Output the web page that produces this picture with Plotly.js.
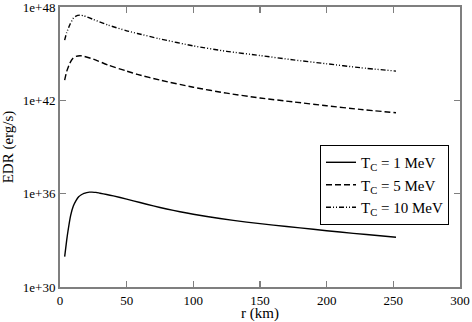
<!DOCTYPE html>
<html>
<head>
<meta charset="utf-8">
<script src="https://cdn.plot.ly/plotly-3.0.1.min.js"></script>
<style>
  html, body { margin: 0; padding: 0; background: #fff; }
  #chart { width: 472px; height: 322px; }
</style>
</head>
<body>
<div id="chart"></div>
<script>
// radius (km) and log10 of the energy deposition rate
const r1 = [3.5, 5, 6, 8, 10, 12, 14, 16, 18, 20, 22, 24, 27, 30, 35, 40, 50, 60, 70, 80, 90, 100, 120, 140, 160, 180, 200, 220, 240, 252];
const logEdr1 = [31.95, 33.0, 33.6, 34.6, 35.2, 35.55, 35.8, 35.93, 36.02, 36.07, 36.1, 36.1, 36.08, 36.03, 35.95, 35.86, 35.65, 35.43, 35.215, 35.015, 34.84, 34.68, 34.4, 34.17, 33.98, 33.8, 33.62, 33.45, 33.29, 33.2];

const r5 = [3.5, 5, 7.3, 9.75, 12, 15, 18, 25, 36, 50, 58, 75, 100, 125, 150, 175, 200, 225, 252];
const logEdr5 = [43.3, 43.85, 44.38, 44.7, 44.82, 44.87, 44.83, 44.65, 44.27, 43.88, 43.67, 43.3, 42.84, 42.46, 42.15, 41.9, 41.65, 41.42, 41.2];

const r10 = [3.5, 5, 7.3, 9.75, 12, 15, 18, 25, 36, 50, 58, 75, 100, 125, 150, 175, 200, 225, 252];
const logEdr10 = [45.87, 46.35, 46.84, 47.25, 47.42, 47.48, 47.43, 47.2, 46.84, 46.47, 46.3, 45.95, 45.5, 45.15, 44.88, 44.6, 44.35, 44.1, 43.88];

const seriesNames = ["T<sub>C</sub> = 1 MeV", "T<sub>C</sub> = 5 MeV", "T<sub>C</sub> = 10 MeV"];
const yTickVals = [1e30, 1e36, 1e42, 1e48];
const yTickText = ["1e+30", "1e+36", "1e+42", "1e+48"];
const xTickVals = [0, 50, 100, 150, 200, 250, 300];

const toVal = arr => arr.map(v => Math.pow(10, v));

const axisGray = '#7f7f7f';
const serif = "Liberation Serif, serif";

const traces = [
    {
        x: r1, y: toVal(logEdr1), name: seriesNames[0],
        mode: 'lines', type: 'scatter',
        line: { color: 'black', width: 1.4, shape: 'spline', smoothing: 0.6 }
    },
    {
        x: r5, y: toVal(logEdr5), name: seriesNames[1],
        mode: 'lines', type: 'scatter',
        line: { color: 'black', width: 1.4, dash: '6px,3px', shape: 'spline', smoothing: 0.6 }
    },
    {
        x: r10, y: toVal(logEdr10), name: seriesNames[2],
        mode: 'lines', type: 'scatter',
        line: { color: 'black', width: 1.4, dash: '5px,2px,1px,2px,1px,2px', shape: 'spline', smoothing: 0.6 }
    }
];

const layout = {
    width: 472,
    height: 322,
    margin: { l: 60, r: 12, t: 7, b: 35 },
    paper_bgcolor: 'white',
    plot_bgcolor: 'white',
    font: { family: serif, size: 13, color: 'black' },
    showlegend: true,
    legend: {
        x: 0.65, y: 0.507, xanchor: 'left', yanchor: 'top',
        bgcolor: 'white', bordercolor: 'black', borderwidth: 1,
        font: { family: serif, size: 15, color: 'black' },
        itemwidth: 30,
        tracegroupgap: 0
    },
    xaxis: {
        range: [0, 300],
        tickvals: xTickVals,
        ticks: 'inside', ticklen: 6, tickwidth: 1.5, tickcolor: axisGray,
        showline: true, linecolor: axisGray, linewidth: 2, mirror: 'ticks',
        showgrid: false, zeroline: false,
        ticklabeloverflow: 'allow',
        tickfont: { family: serif, size: 13 },
        title: { text: 'r (km)', font: { family: serif, size: 15 }, standoff: 8 }
    },
    yaxis: {
        type: 'log',
        range: [30, 48.0001],
        tickvals: yTickVals,
        ticktext: yTickText,
        ticks: 'inside', ticklen: 6, tickwidth: 1.5, tickcolor: axisGray,
        showline: true, linecolor: axisGray, linewidth: 2, mirror: 'ticks',
        showgrid: false, zeroline: false,
        ticklabeloverflow: 'allow',
        tickfont: { family: serif, size: 13 },
        title: { text: 'EDR (erg/s)', font: { family: serif, size: 15 }, standoff: 6 }
    }
};

Plotly.newPlot('chart', traces, layout, { displayModeBar: false, staticPlot: true });
</script>
</body>
</html>
